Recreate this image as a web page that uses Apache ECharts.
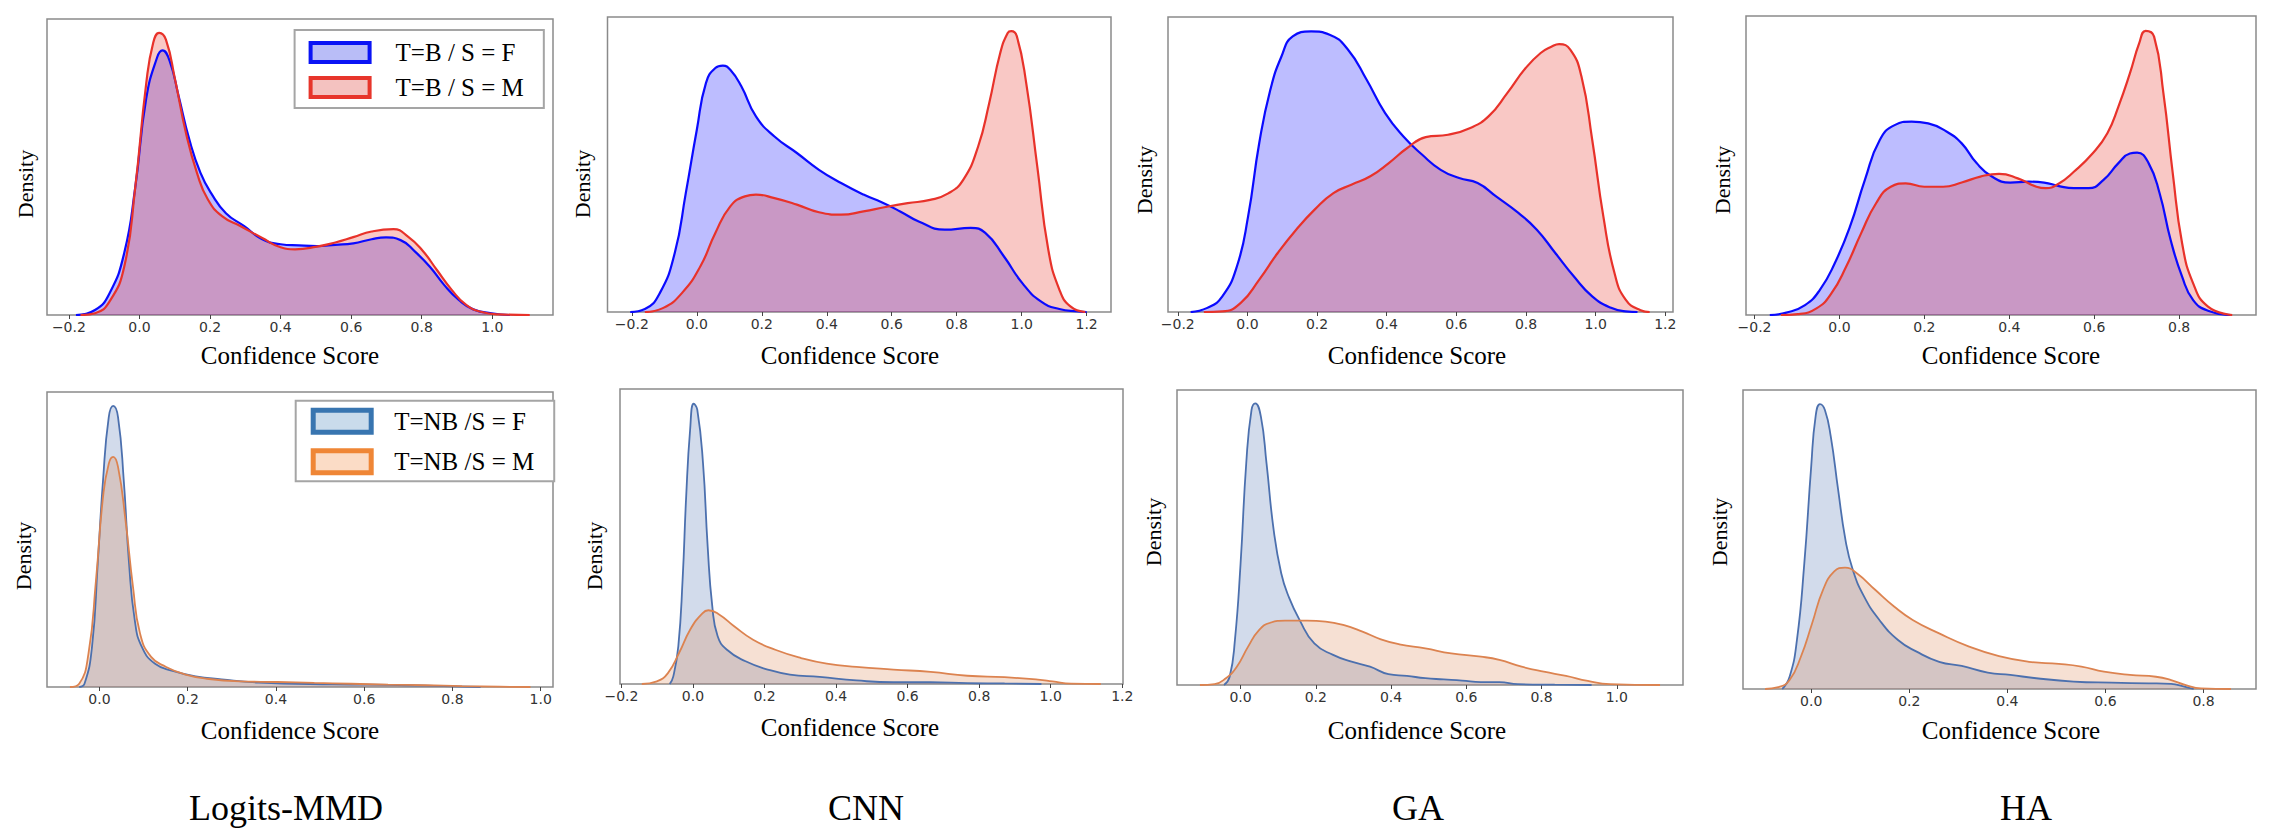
<!DOCTYPE html>
<html>
<head>
<meta charset="utf-8">
<script src="https://cdn.jsdelivr.net/npm/echarts@6/dist/echarts.min.js"></script>
<style>
  html, body { margin: 0; padding: 0; background: #fff; }
  #chart { width: 2286px; height: 840px; }
</style>
</head>
<body>
<div id="chart"></div>
<script>
const methods = ['Logits-MMD', 'CNN', 'GA', 'HA'];
const topNames = ['T=B / S = F', 'T=B / S = M'];
const bottomNames = ['T=NB /S = F', 'T=NB /S = M'];

// x-axis extents and tick values per panel
const topRanges = [[-0.262, 1.172], [-0.275, 1.275], [-0.228, 1.222], [-0.22, 0.981]];
const bottomRanges = [[-0.119, 1.028], [-0.204, 1.202], [-0.169, 1.176], [-0.139, 0.907]];
const topTicks = [
    [-0.2, 0, 0.2, 0.4, 0.6, 0.8, 1.0],
    [-0.2, 0, 0.2, 0.4, 0.6, 0.8, 1.0, 1.2],
    [-0.2, 0, 0.2, 0.4, 0.6, 0.8, 1.0, 1.2],
    [-0.2, 0, 0.2, 0.4, 0.6, 0.8]
];
const bottomTicks = [
    [0, 0.2, 0.4, 0.6, 0.8, 1.0],
    [-0.2, 0, 0.2, 0.4, 0.6, 0.8, 1.0, 1.2],
    [0, 0.2, 0.4, 0.6, 0.8, 1.0],
    [0, 0.2, 0.4, 0.6, 0.8]
];

// densities, read as a share of each panel's height: [score, density]
const logitsBF = [[-0.18,0],[-0.126,0.017],[-0.085,0.073],[-0.043,0.21],[-0.012,0.43],[0.019,0.73],[0.05,0.87],[0.065,0.894],[0.086,0.857],[0.111,0.74],[0.142,0.59],[0.173,0.48],[0.204,0.41],[0.245,0.344],[0.297,0.30],[0.348,0.256],[0.4,0.239],[0.452,0.235],[0.503,0.233],[0.555,0.237],[0.606,0.242],[0.658,0.256],[0.699,0.262],[0.74,0.253],[0.781,0.214],[0.823,0.163],[0.864,0.101],[0.905,0.051],[0.946,0.019],[0.998,0.006],[1.05,0]];
const logitsBM = [[-0.167,0],[-0.126,0.006],[-0.085,0.045],[-0.043,0.164],[-0.012,0.43],[0.019,0.78],[0.039,0.92],[0.056,0.953],[0.075,0.93],[0.101,0.795],[0.132,0.614],[0.163,0.48],[0.194,0.39],[0.235,0.333],[0.287,0.30],[0.348,0.26],[0.4,0.229],[0.441,0.222],[0.503,0.231],[0.555,0.245],[0.606,0.263],[0.658,0.282],[0.72,0.29],[0.761,0.265],[0.802,0.218],[0.843,0.152],[0.885,0.085],[0.926,0.034],[0.967,0.011],[1.019,0.002],[1.106,0]];
const cnnBF = [[-0.205,0],[-0.16,0.01],[-0.114,0.064],[-0.068,0.2],[-0.034,0.403],[0,0.618],[0.028,0.776],[0.057,0.827],[0.08,0.835],[0.103,0.821],[0.137,0.765],[0.182,0.663],[0.239,0.595],[0.308,0.539],[0.376,0.482],[0.444,0.437],[0.513,0.398],[0.569,0.372],[0.626,0.341],[0.683,0.307],[0.763,0.279],[0.843,0.285],[0.888,0.268],[0.945,0.189],[1.002,0.098],[1.059,0.036],[1.116,0.01],[1.173,0.002],[1.2,0]];
const cnnBM = [[-0.16,0],[-0.103,0.014],[-0.046,0.064],[0.011,0.155],[0.057,0.268],[0.103,0.358],[0.148,0.392],[0.182,0.398],[0.239,0.386],[0.308,0.364],[0.376,0.338],[0.444,0.33],[0.513,0.341],[0.581,0.356],[0.649,0.369],[0.718,0.38],[0.774,0.402],[0.82,0.448],[0.866,0.561],[0.9,0.708],[0.934,0.878],[0.957,0.946],[0.968,0.952],[0.985,0.935],[1.014,0.776],[1.048,0.494],[1.082,0.211],[1.116,0.076],[1.15,0.019],[1.196,0]];
const gaBF = [[-0.163,0],[-0.115,0.014],[-0.072,0.053],[-0.03,0.155],[0.002,0.324],[0.034,0.573],[0.066,0.754],[0.098,0.867],[0.13,0.934],[0.183,0.951],[0.236,0.94],[0.289,0.889],[0.342,0.788],[0.395,0.675],[0.448,0.595],[0.502,0.533],[0.555,0.482],[0.608,0.454],[0.661,0.437],[0.714,0.392],[0.778,0.336],[0.831,0.279],[0.884,0.2],[0.937,0.121],[0.99,0.053],[1.044,0.014],[1.086,0.002],[1.12,0]];
const gaBM = [[-0.125,0],[-0.072,0.002],[-0.019,0.031],[0.034,0.11],[0.087,0.2],[0.14,0.279],[0.193,0.347],[0.247,0.403],[0.3,0.432],[0.353,0.46],[0.406,0.505],[0.459,0.556],[0.512,0.593],[0.576,0.601],[0.64,0.624],[0.693,0.664],[0.746,0.742],[0.799,0.827],[0.842,0.878],[0.874,0.9],[0.895,0.908],[0.927,0.889],[0.959,0.799],[0.99,0.584],[1.022,0.324],[1.054,0.132],[1.086,0.042],[1.129,0.006],[1.155,0]];
const haBF = [[-0.164,0],[-0.125,0.008],[-0.081,0.033],[-0.046,0.084],[-0.011,0.173],[0.025,0.296],[0.06,0.452],[0.095,0.585],[0.13,0.635],[0.17,0.647],[0.209,0.641],[0.253,0.613],[0.288,0.574],[0.323,0.508],[0.359,0.463],[0.402,0.443],[0.446,0.446],[0.482,0.443],[0.517,0.431],[0.552,0.424],[0.587,0.424],[0.622,0.452],[0.657,0.508],[0.684,0.54],[0.701,0.543],[0.728,0.508],[0.754,0.407],[0.78,0.251],[0.807,0.128],[0.833,0.05],[0.868,0.014],[0.921,0]];
const haBM = [[-0.138,0],[-0.098,0.003],[-0.054,0.022],[-0.019,0.072],[0.016,0.162],[0.051,0.273],[0.086,0.373],[0.121,0.429],[0.156,0.44],[0.2,0.429],[0.244,0.429],[0.288,0.443],[0.332,0.463],[0.376,0.472],[0.42,0.457],[0.464,0.429],[0.486,0.424],[0.517,0.44],[0.552,0.479],[0.596,0.54],[0.631,0.608],[0.657,0.697],[0.684,0.808],[0.706,0.909],[0.721,0.95],[0.741,0.931],[0.763,0.741],[0.785,0.474],[0.807,0.24],[0.833,0.106],[0.868,0.028],[0.925,0]];

const logitsNBF = [[-0.046,0],[-0.034,0.011],[-0.017,0.136],[-0.004,0.418],[0.008,0.7],[0.021,0.915],[0.031,0.953],[0.042,0.915],[0.055,0.7],[0.067,0.418],[0.08,0.226],[0.096,0.136],[0.126,0.079],[0.168,0.054],[0.218,0.036],[0.277,0.026],[0.361,0.015],[0.445,0.011],[0.529,0.009],[0.612,0.008],[0.696,0.006],[0.78,0.003],[0.864,0]];
const logitsNBM = [[-0.067,0],[-0.046,0.011],[-0.025,0.113],[-0.008,0.362],[0.008,0.644],[0.021,0.757],[0.031,0.78],[0.042,0.746],[0.059,0.565],[0.076,0.339],[0.092,0.181],[0.117,0.102],[0.151,0.068],[0.193,0.043],[0.243,0.028],[0.319,0.019],[0.403,0.017],[0.487,0.014],[0.57,0.011],[0.654,0.008],[0.738,0.006],[0.822,0.003],[0.906,0.001],[0.977,0]];
const cnnNBF = [[-0.065,0],[-0.055,0.026],[-0.041,0.128],[-0.029,0.354],[-0.019,0.636],[-0.008,0.862],[0.002,0.95],[0.012,0.93],[0.028,0.749],[0.041,0.467],[0.054,0.263],[0.069,0.162],[0.095,0.116],[0.147,0.077],[0.209,0.049],[0.271,0.032],[0.354,0.024],[0.457,0.012],[0.56,0.006],[0.664,0.006],[0.767,0.003],[0.871,0.002],[0.974,0]];
const cnnNBM = [[-0.143,0],[-0.101,0.009],[-0.07,0.037],[-0.039,0.105],[-0.008,0.184],[0.023,0.235],[0.043,0.25],[0.074,0.235],[0.116,0.195],[0.168,0.15],[0.23,0.116],[0.302,0.088],[0.374,0.069],[0.457,0.058],[0.56,0.049],[0.664,0.041],[0.767,0.028],[0.871,0.023],[0.964,0.015],[1.005,0.009],[1.057,0.001],[1.14,0]];
const gaNBF = [[-0.044,0],[-0.029,0.028],[-0.015,0.153],[0,0.412],[0.015,0.751],[0.029,0.932],[0.039,0.955],[0.054,0.91],[0.069,0.751],[0.088,0.525],[0.108,0.379],[0.128,0.299],[0.157,0.22],[0.196,0.141],[0.246,0.102],[0.295,0.079],[0.344,0.062],[0.393,0.037],[0.442,0.031],[0.491,0.023],[0.54,0.019],[0.589,0.015],[0.639,0.01],[0.688,0.01],[0.737,0.003],[0.835,0.001],[0.933,0]];
const gaNBM = [[-0.108,0],[-0.069,0.003],[-0.039,0.023],[-0.01,0.062],[0.02,0.13],[0.049,0.186],[0.079,0.211],[0.118,0.218],[0.177,0.218],[0.226,0.215],[0.275,0.203],[0.324,0.181],[0.373,0.155],[0.422,0.138],[0.491,0.124],[0.56,0.107],[0.639,0.096],[0.688,0.085],[0.747,0.062],[0.806,0.045],[0.865,0.031],[0.923,0.014],[0.982,0.003],[1.115,0]];
const haNBF = [[-0.059,0],[-0.044,0.041],[-0.029,0.164],[-0.014,0.42],[0,0.743],[0.009,0.911],[0.018,0.953],[0.028,0.933],[0.04,0.844],[0.055,0.666],[0.07,0.498],[0.085,0.398],[0.108,0.309],[0.139,0.231],[0.177,0.164],[0.215,0.125],[0.261,0.091],[0.307,0.077],[0.36,0.055],[0.406,0.047],[0.459,0.036],[0.535,0.025],[0.612,0.021],[0.688,0.019],[0.734,0.017],[0.757,0.01],[0.78,0]];
const haNBM = [[-0.094,0],[-0.067,0.006],[-0.044,0.03],[-0.021,0.108],[0.002,0.22],[0.024,0.331],[0.047,0.393],[0.069,0.406],[0.093,0.387],[0.131,0.331],[0.169,0.276],[0.207,0.231],[0.261,0.186],[0.322,0.142],[0.383,0.11],[0.444,0.091],[0.505,0.084],[0.551,0.075],[0.597,0.058],[0.65,0.047],[0.703,0.041],[0.734,0.03],[0.764,0.013],[0.795,0.002],[0.856,0]];

const topSeries = [[logitsBF, logitsBM], [cnnBF, cnnBM], [gaBF, gaBM], [haBF, haBM]];
const bottomSeries = [[logitsNBF, logitsNBM], [cnnNBF, cnnNBM], [gaNBF, gaNBM], [haNBF, haNBM]];

// plot boxes in page pixels
const gridBoxes = [
    {left: 47, top: 19, width: 506, height: 296},
    {left: 607.5, top: 17, width: 503.5, height: 295},
    {left: 1168, top: 17, width: 505, height: 295},
    {left: 1746, top: 16, width: 510, height: 299},
    {left: 47, top: 392, width: 506, height: 295},
    {left: 620, top: 389, width: 503, height: 295},
    {left: 1177, top: 390, width: 506, height: 295},
    {left: 1743, top: 390, width: 513, height: 299}
];
const xLabelPos = [[290, 355], [850, 355], [1417, 355], [2011, 355], [290, 730], [850, 727], [1417, 730], [2011, 730]];
const yLabelPos = [[25, 184], [582, 184], [1144, 180], [1722, 180], [23, 556], [594, 556], [1153, 532], [1719, 532]];
const titlePos = [[286, 808], [866, 808], [1418, 808], [2026, 808]];

const topColors = ['#0a0aff', '#e8322a'];
const bottomColors = ['#4c70ae', '#dc8350'];
const serif = '"Liberation Serif", "Times New Roman", serif';

const fmt = v => {
    const s = Math.abs(v).toFixed(1);
    return v < -1e-9 ? '\u2212' + s : s;
};

const grids = [], xAxes = [], yAxes = [], series = [], graphics = [];

function addPanel(idx, range, ticks, pair, names, colors, opacity, width) {
    grids.push(Object.assign({show: true, borderColor: '#8a8a8a', borderWidth: 1.5, backgroundColor: '#fff'}, gridBoxes[idx]));
    xAxes.push({
        type: 'value', gridIndex: idx, min: range[0], max: range[1],
        axisLine: {show: false},
        splitLine: {show: false},
        axisTick: {show: true, length: 4, customValues: ticks, lineStyle: {color: '#444', width: 1}},
        axisLabel: {customValues: ticks, formatter: fmt, margin: 5, color: '#333',
            fontFamily: '"DejaVu Sans", sans-serif', fontSize: 14}
    });
    yAxes.push({
        type: 'value', gridIndex: idx, min: 0, max: 1,
        axisLine: {show: false}, axisTick: {show: false}, axisLabel: {show: false}, splitLine: {show: false}
    });
    pair.forEach((data, k) => {
        series.push({
            type: 'line', name: names[k], data: data,
            xAxisIndex: idx, yAxisIndex: idx,
            symbol: 'none', smooth: 0.5,
            lineStyle: {color: colors[k], width: width},
            itemStyle: {color: colors[k]},
            areaStyle: {color: colors[k], opacity: opacity},
            emphasis: {disabled: true},
            silent: true
        });
    });
    graphics.push({
        type: 'text', x: xLabelPos[idx][0], y: xLabelPos[idx][1],
        style: {text: 'Confidence Score', font: '25px ' + serif, fill: '#000', textAlign: 'center', textVerticalAlign: 'middle'}
    });
    graphics.push({
        type: 'text', x: yLabelPos[idx][0], y: yLabelPos[idx][1], rotation: Math.PI / 2,
        style: {text: 'Density', font: '22px ' + serif, fill: '#000', textAlign: 'center', textVerticalAlign: 'middle'}
    });
}

for (let i = 0; i < 4; i++) {
    addPanel(i, topRanges[i], topTicks[i], topSeries[i], topNames, topColors, 0.27, 2.2);
}
for (let i = 0; i < 4; i++) {
    addPanel(4 + i, bottomRanges[i], bottomTicks[i], bottomSeries[i], bottomNames, bottomColors, 0.25, 1.8);
}

methods.forEach((m, i) => {
    graphics.push({
        type: 'text', x: titlePos[i][0], y: titlePos[i][1],
        style: {text: m, font: '36px ' + serif, fill: '#000', textAlign: 'center', textVerticalAlign: 'middle'}
    });
});

const legendText = {fontFamily: serif, fontSize: 25, color: '#000'};

const chart = echarts.init(document.getElementById('chart'), null, {renderer: 'svg'});
chart.setOption({
    animation: false,
    backgroundColor: '#fff',
    grid: grids,
    xAxis: xAxes,
    yAxis: yAxes,
    series: series,
    legend: [
        {
            orient: 'vertical', left: 294.6, top: 30,
            padding: [10, 20, 8, 14], itemGap: 10, itemWidth: 59, itemHeight: 19,
            borderColor: '#a5a5a5', borderWidth: 2, backgroundColor: '#fff',
            selectedMode: false,
            textStyle: Object.assign({padding: [0, 0, 0, 21]}, legendText),
            data: [
                {name: topNames[0], icon: 'rect', itemStyle: {color: '#b9bdf7', borderColor: '#0a14f5', borderWidth: 4}},
                {name: topNames[1], icon: 'rect', itemStyle: {color: '#f4c2c0', borderColor: '#e7352b', borderWidth: 4}}
            ]
        },
        {
            orient: 'vertical', left: 295.7, top: 400.7,
            padding: [7, 20, 6, 15], itemGap: 13.5, itemWidth: 58, itemHeight: 22,
            borderColor: '#a5a5a5', borderWidth: 2, backgroundColor: '#fff',
            selectedMode: false,
            textStyle: Object.assign({padding: [0, 0, 0, 18]}, legendText),
            data: [
                {name: bottomNames[0], icon: 'rect', itemStyle: {color: '#c9dbeb', borderColor: '#3875b0', borderWidth: 5}},
                {name: bottomNames[1], icon: 'rect', itemStyle: {color: '#fbdcc6', borderColor: '#ef8636', borderWidth: 5}}
            ]
        }
    ],
    graphic: graphics
});
</script>
</body>
</html>
